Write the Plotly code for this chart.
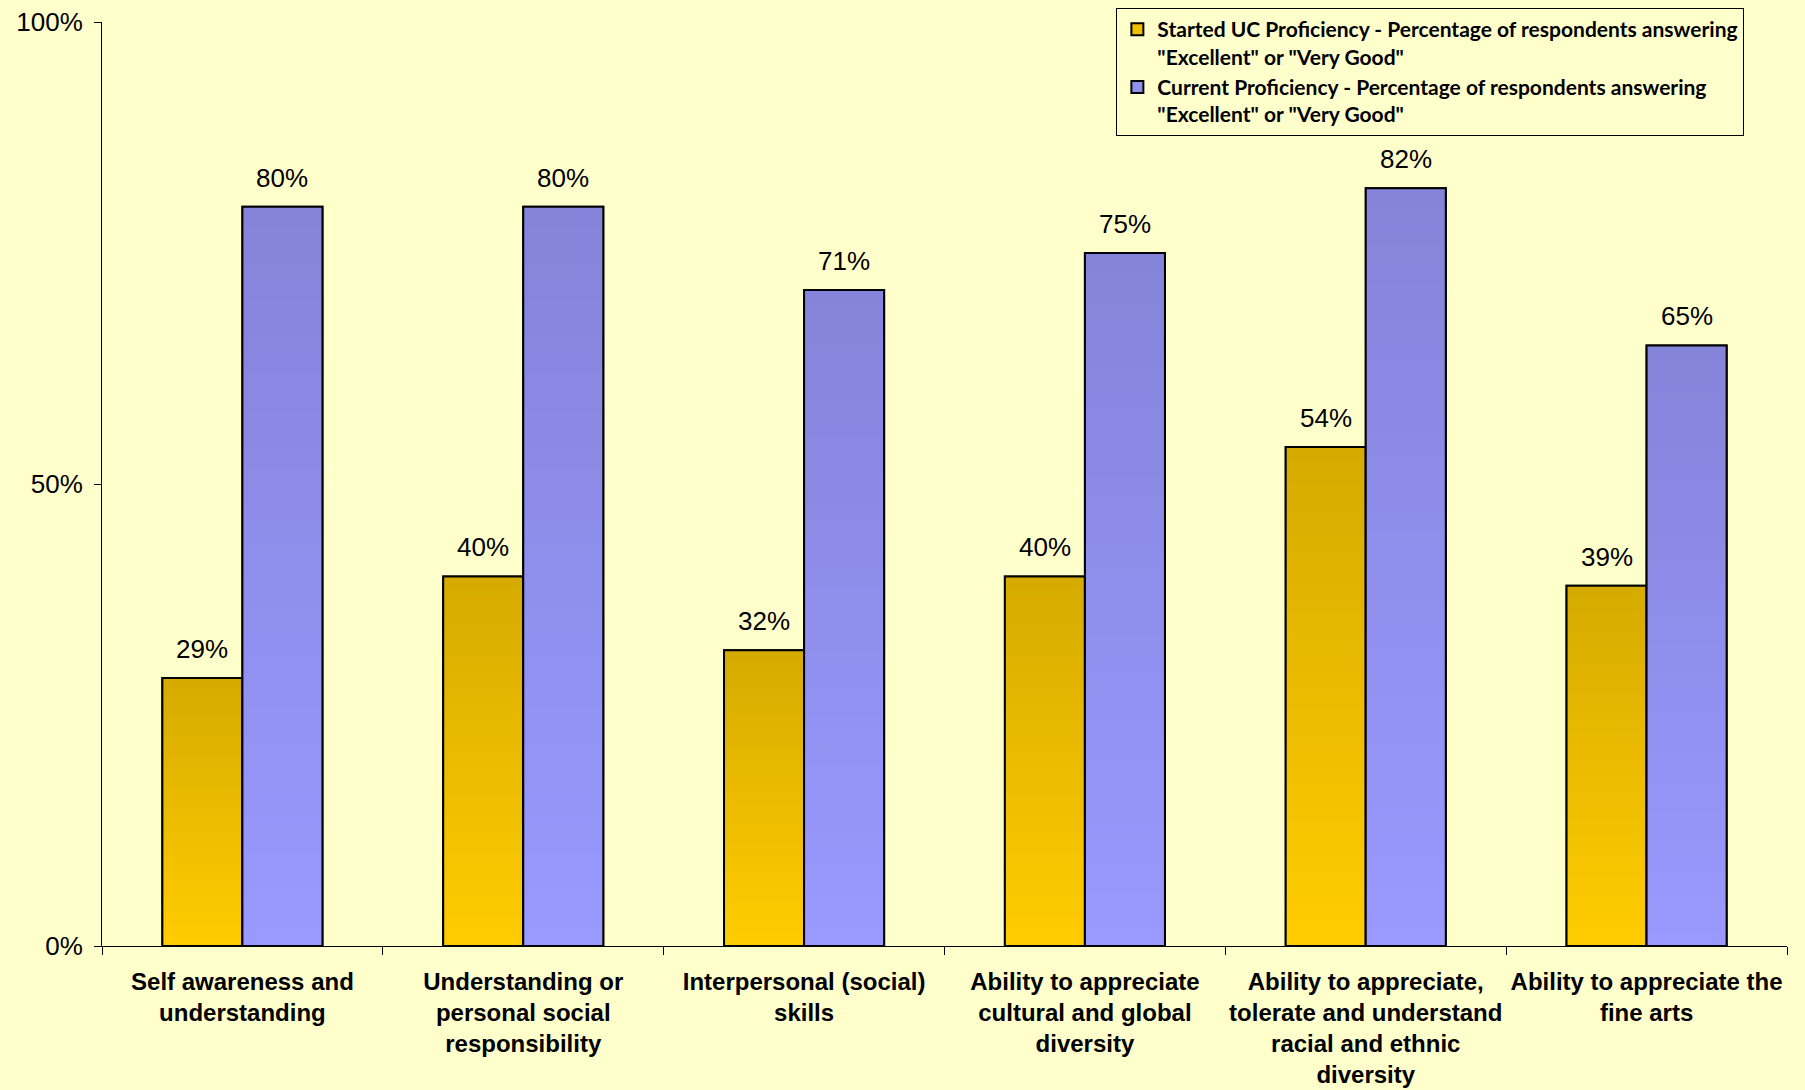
import plotly.graph_objects as go

categories = [
    "Self awareness and<br>understanding",
    "Understanding or<br>personal social<br>responsibility",
    "Interpersonal (social)<br>skills",
    "Ability to appreciate<br>cultural and global<br>diversity",
    "Ability to appreciate,<br>tolerate and understand<br>racial and ethnic<br>diversity",
    "Ability to appreciate the<br>fine arts",
]
started = [0.29, 0.40, 0.32, 0.40, 0.54, 0.39]
current = [0.80, 0.80, 0.71, 0.75, 0.82, 0.65]
series_names = [
    'Started UC Proficiency - Percentage of respondents answering<br>"Excellent" or "Very Good"',
    'Current Proficiency - Percentage of respondents answering<br>"Excellent" or "Very Good"',
]
y_ticks = [0, 0.5, 1.0]
y_ticktext = ["0%", "50%", "100%"]

BG = "#FFFFCC"
yellow_top, yellow_bot = (0xD6, 0xAB, 0x00), (0xFF, 0xCC, 0x00)
blue_top, blue_bot = (0x84, 0x84, 0xDA), (0x99, 0x99, 0xFF)
W = 0.285
N = 40


def mix(a, b, t):
    return "rgb(%d,%d,%d)" % tuple(round(a[i] + (b[i] - a[i]) * t) for i in range(3))


fig = go.Figure()
specs = [
    (started, series_names[0], yellow_top, yellow_bot, -W),
    (current, series_names[1], blue_top, blue_bot, 0.0),
]
for vals, name, ctop, cbot, off in specs:
    # legend / base bar
    fig.add_trace(go.Bar(
        x=categories, y=vals, name=name, offset=off, width=W,
        marker=dict(color=mix(ctop, cbot, 0.6), line=dict(color="black", width=2)),
        showlegend=True, hoverinfo="skip",
    ))
    # vertical gradient
    for k in range(N):
        frac = (N - k) / N
        fig.add_trace(go.Bar(
            x=categories, y=[v * frac for v in vals], offset=off, width=W,
            marker=dict(color=mix(ctop, cbot, k / (N - 1)), line=dict(width=0)),
            showlegend=False, hoverinfo="skip",
        ))
    # outline on top
    fig.add_trace(go.Bar(
        x=categories, y=vals, offset=off, width=W, name=name,
        marker=dict(color="rgba(0,0,0,0)", line=dict(color="black", width=2)),
        showlegend=False,
    ))

annotations = []
for vals, off in ((started, -W / 2), (current, W / 2)):
    for i, v in enumerate(vals):
        annotations.append(dict(
            x=i + off, y=v, xref="x", yref="y", text="%d%%" % round(v * 100),
            showarrow=False, yanchor="bottom", yshift=12,
            font=dict(family="Liberation Sans, Arial", size=26, color="black"),
        ))

fig.update_layout(
    width=1805, height=1090,
    barmode="overlay",
    paper_bgcolor=BG, plot_bgcolor=BG,
    margin=dict(l=102, r=18, t=22, b=144, autoexpand=False),
    showlegend=True,
    legend=dict(
        x=0.602, y=1.015, xanchor="left", yanchor="top",
        bgcolor=BG, bordercolor="black", borderwidth=1,
        font=dict(family="Lato, Carlito, Open Sans", size=21, color="black", weight="bold"),
        valign="top", tracegroupgap=2, itemwidth=30,
    ),
    annotations=annotations,
    font=dict(family="Liberation Sans, Arial", color="black"),
)
fig.update_yaxes(
    range=[0, 1], tickvals=y_ticks, ticktext=y_ticktext,
    showline=True, linecolor="black", linewidth=1,
    ticks="outside", ticklen=7, tickcolor="black",
    showgrid=False, zeroline=False, automargin=False,
    tickfont=dict(family="Liberation Sans, Arial", size=26, color="black"),
    ticklabelstandoff=6,
)
fig.update_xaxes(
    showline=True, linecolor="black", linewidth=1,
    ticks="outside", ticklen=8, tickcolor="black", tickson="boundaries",
    showgrid=False, zeroline=False, tickangle=0, automargin=False,
    tickfont=dict(family="Liberation Sans, Arial", size=24, color="black", weight="bold"),
    ticklabelstandoff=14,
    range=[-0.5, 5.5],
)

fig.write_html(
    "out.html",
    config={"displayModeBar": False},
    post_script="document.body.style.margin='0';document.body.style.background='#FFFFCC';",
)
